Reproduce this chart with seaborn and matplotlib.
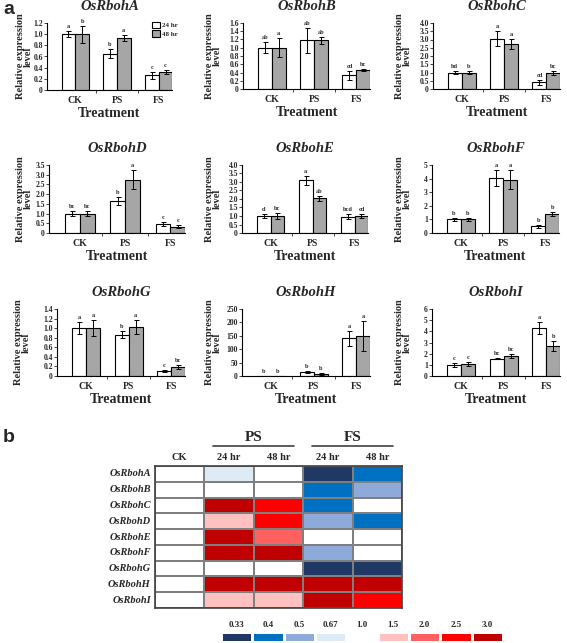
import numpy as np
import pandas as pd
import matplotlib.pyplot as plt
import seaborn as sns
from matplotlib.colors import ListedColormap
from matplotlib.ticker import FixedLocator, FuncFormatter

genes = ['OsRbohA', 'OsRbohB', 'OsRbohC', 'OsRbohD', 'OsRbohE',
         'OsRbohF', 'OsRbohG', 'OsRbohH', 'OsRbohI']
treatments = ['CK', 'PS', 'FS']
times = ['24 hr', '48 hr']

# relative expression (CK, PS, FS) per gene
mean_24 = [[1.0, 0.65, 0.26], [1.0, 1.18, 0.33], [1.0, 3.05, 0.40],
           [1.0, 1.65, 0.45], [1.0, 3.10, 0.97], [1.0, 4.05, 0.50],
           [1.0, 0.86, 0.10], [1.0, 16.0, 140.0], [1.0, 1.55, 4.30]]
err_24 = [[0.05, 0.08, 0.07], [0.13, 0.30, 0.10], [0.08, 0.45, 0.15],
          [0.12, 0.22, 0.10], [0.10, 0.25, 0.15], [0.10, 0.60, 0.12],
          [0.13, 0.07, 0.02], [0.5, 4.0, 28.0], [0.15, 0.05, 0.55]]
mean_48 = [[1.0, 0.93, 0.32], [1.0, 1.18, 0.46], [1.0, 2.72, 0.97],
           [1.0, 2.75, 0.32], [1.0, 2.03, 1.00], [1.0, 3.90, 1.38],
           [1.0, 1.02, 0.19], [1.0, 7.0, 150.0], [1.07, 1.80, 2.72]]
err_48 = [[0.15, 0.05, 0.04], [0.23, 0.08, 0.03], [0.08, 0.30, 0.15],
          [0.15, 0.48, 0.07], [0.15, 0.12, 0.12], [0.10, 0.70, 0.15],
          [0.16, 0.14, 0.05], [0.5, 3.0, 55.0], [0.20, 0.20, 0.45]]
letters_24 = [['a', 'b', 'c'], ['ab', 'ab', 'cd'], ['bd', 'a', 'cd'],
              ['bc', 'b', 'c'], ['d', 'a', 'bcd'], ['b', 'a', 'b'],
              ['a', 'b', 'c'], ['b', 'b', 'a'], ['c', 'bc', 'a']]
letters_48 = [['b', 'a', 'c'], ['a', 'ab', 'bc'], ['b', 'a', 'bc'],
              ['bc', 'a', 'c'], ['bc', 'ab', 'cd'], ['b', 'a', 'b'],
              ['a', 'a', 'bc'], ['b', 'b', 'a'], ['c', 'bc', 'b']]
y_max = [1.2, 1.6, 4.0, 3.5, 4.0, 5, 1.4, 250, 6]
y_step = [0.2, 0.2, 0.5, 0.5, 0.5, 1, 0.2, 50, 1]

# panel b: fold change classes
levels = ['0.33', '0.4', '0.5', '0.67', '1.0', '1.5', '2.0', '2.5', '3.0']
level_colors = ['#203864', '#0070c0', '#8eaadb', '#deebf7', '#ffffff',
                '#ffc0c0', '#ff6060', '#ff0000', '#c00000']
heat_cols = ['CK', '24 hr', '48 hr', '24 hr', '48 hr']
heat_values = [['1.0', '0.67', '1.0', '0.33', '0.4'],
               ['1.0', '1.0', '1.0', '0.4', '0.5'],
               ['1.0', '3.0', '2.5', '0.4', '1.0'],
               ['1.0', '1.5', '2.5', '0.5', '0.4'],
               ['1.0', '3.0', '2.0', '1.0', '1.0'],
               ['1.0', '3.0', '3.0', '0.5', '1.0'],
               ['1.0', '1.0', '1.0', '0.33', '0.33'],
               ['1.0', '3.0', '3.0', '3.0', '3.0'],
               ['1.0', '1.5', '1.5', '3.0', '2.5']]

sns.set_style('ticks')
plt.rcParams['font.family'] = ['Liberation Serif', 'DejaVu Serif']
plt.rcParams['font.weight'] = 'bold'

W, H = 567, 643
fig = plt.figure(figsize=(W / 100, H / 100), dpi=100)


def box(x0, x1, y0, y1):
    return [x0 / W, 1 - y1 / H, (x1 - x0) / W, (y1 - y0) / H]


bar_boxes = [(47, 172, 23, 90), (243, 370, 23, 89), (433, 560, 23, 89),
             (49, 185, 165, 233), (242, 368, 165, 233), (432, 559, 165, 233),
             (57, 185, 309, 376), (242, 370, 309, 376), (432, 560, 309, 376)]
ylab_right = [33, 222, 412, 33, 222, 412, 31, 222, 412]

palette = {'24 hr': 'white', '48 hr': '#a6a6a6'}

for i, g in enumerate(genes):
    x0, x1, y0, y1 = bar_boxes[i]
    ax = fig.add_axes(box(x0, x1, y0, y1))
    df = pd.DataFrame({
        'Treatment': treatments * 2,
        'Time': ['24 hr'] * 3 + ['48 hr'] * 3,
        'value': mean_24[i] + mean_48[i],
    })
    sns.barplot(data=df, x='Treatment', y='value', hue='Time', order=treatments,
                hue_order=times, palette=palette, edgecolor='black', linewidth=0.8,
                width=0.66, errorbar=None, legend=(i == 0), ax=ax)
    errs = [err_24[i], err_48[i]]
    lets = [letters_24[i], letters_48[i]]
    bar_conts = list(ax.containers)
    for k, cont in enumerate(bar_conts):
        xs = [p.get_x() + p.get_width() / 2 for p in cont]
        ys = [p.get_height() for p in cont]
        ax.errorbar(xs, ys, yerr=errs[k], fmt='none', ecolor='black',
                    elinewidth=0.7, capsize=1.8, capthick=0.7)
        for x, y, e, t in zip(xs, ys, errs[k], lets[k]):
            ax.text(x, y + e + y_max[i] * 0.03, t, ha='center', va='bottom',
                    fontsize=4.5, fontweight='bold')
    ax.set_xlim(-0.68, 2.32)
    ax.set_ylim(0, y_max[i])
    step = y_step[i]
    ticks = np.arange(0, y_max[i] + step / 2, step)
    ax.yaxis.set_major_locator(FixedLocator(ticks))
    ax.yaxis.set_major_formatter(FuncFormatter(
        lambda v, p, s=step: '0' if abs(v) < 1e-9 else (f'{v:.1f}' if s < 1 else f'{v:.0f}')))
    ax.tick_params(axis='y', labelsize=5.5, length=2, width=0.6, pad=1)
    ax.tick_params(axis='x', labelsize=7, length=0, pad=4)
    ax.set_xticks([0, 1, 2], minor=False)
    ax.set_xticks([0.5, 1.5], minor=True)
    ax.tick_params(axis='x', which='minor', length=2, width=0.6)
    for lab in ax.get_xticklabels():
        lab.set_fontweight('bold')
    sns.despine(ax=ax)
    for s in ['left', 'bottom']:
        ax.spines[s].set_linewidth(0.8)
        ax.spines[s].set_color('black')
    ax.set_xlabel('Treatment', fontsize=10, fontweight='bold', labelpad=2)
    ax.set_ylabel('Relative expression\nlevel', fontsize=7.5, fontweight='bold',
                  linespacing=0.9)
    ax.yaxis.set_label_coords((ylab_right[i] - x0) / (x1 - x0), 0.5)
    ax.set_title(g, fontsize=10.5, fontweight='bold', style='italic', pad=9)
    if i == 0:
        ax.legend(loc='upper left', bbox_to_anchor=(0.82, 1.06), frameon=False,
                  fontsize=5, handlelength=1.1, handleheight=1.1,
                  handletextpad=0.3, labelspacing=0.2, borderaxespad=0)

fig.text(3 / W, 1 - 10 / H, 'a', fontsize=14, fontweight='bold',
         family='Liberation Sans', va='center')
fig.text(3 / W, 1 - 438 / H, 'b', fontsize=14, fontweight='bold',
         family='Liberation Sans', va='center')

# heatmap
codes = np.array([[levels.index(v) for v in row] for row in heat_values])
cmap = ListedColormap(level_colors)
hax = fig.add_axes(box(155, 402, 466, 608))
sns.heatmap(codes, cmap=cmap, vmin=-0.5, vmax=8.5, linewidths=1.2,
            linecolor='#7f7f7f', cbar=False, xticklabels=heat_cols,
            yticklabels=genes, ax=hax)
hax.xaxis.tick_top()
hax.tick_params(length=0, pad=3)
for lab in hax.get_xticklabels():
    lab.set_fontsize(7.5)
    lab.set_fontweight('bold')
    lab.set_rotation(0)
for lab in hax.get_yticklabels():
    lab.set_fontsize(7.5)
    lab.set_fontweight('bold')
    lab.set_style('italic')
    lab.set_rotation(0)
for s in hax.spines.values():
    s.set_visible(True)
    s.set_color('#404040')
    s.set_linewidth(1.2)
for cx, name in [(2, 'PS'), (4, 'FS')]:
    hax.text(cx, -1.8, name, ha='center', va='center', fontsize=11,
             fontweight='bold', clip_on=False)
    hax.plot([cx - 0.82, cx + 0.82], [-1.27, -1.27], color='#404040', lw=1.2,
             clip_on=False)

# colour key
kax = fig.add_axes(box(221, 503, 632, 642))
sns.heatmap(np.arange(len(levels)).reshape(1, -1), cmap=cmap, vmin=-0.5, vmax=8.5,
            linewidths=0.8, linecolor='white', cbar=False,
            xticklabels=levels, yticklabels=False, ax=kax)
kax.xaxis.tick_top()
kax.tick_params(length=0, pad=2)
for lab in kax.get_xticklabels():
    lab.set_fontsize(6.5)
    lab.set_fontweight('bold')
    lab.set_rotation(0)

plt.savefig('out.png', dpi=100)
